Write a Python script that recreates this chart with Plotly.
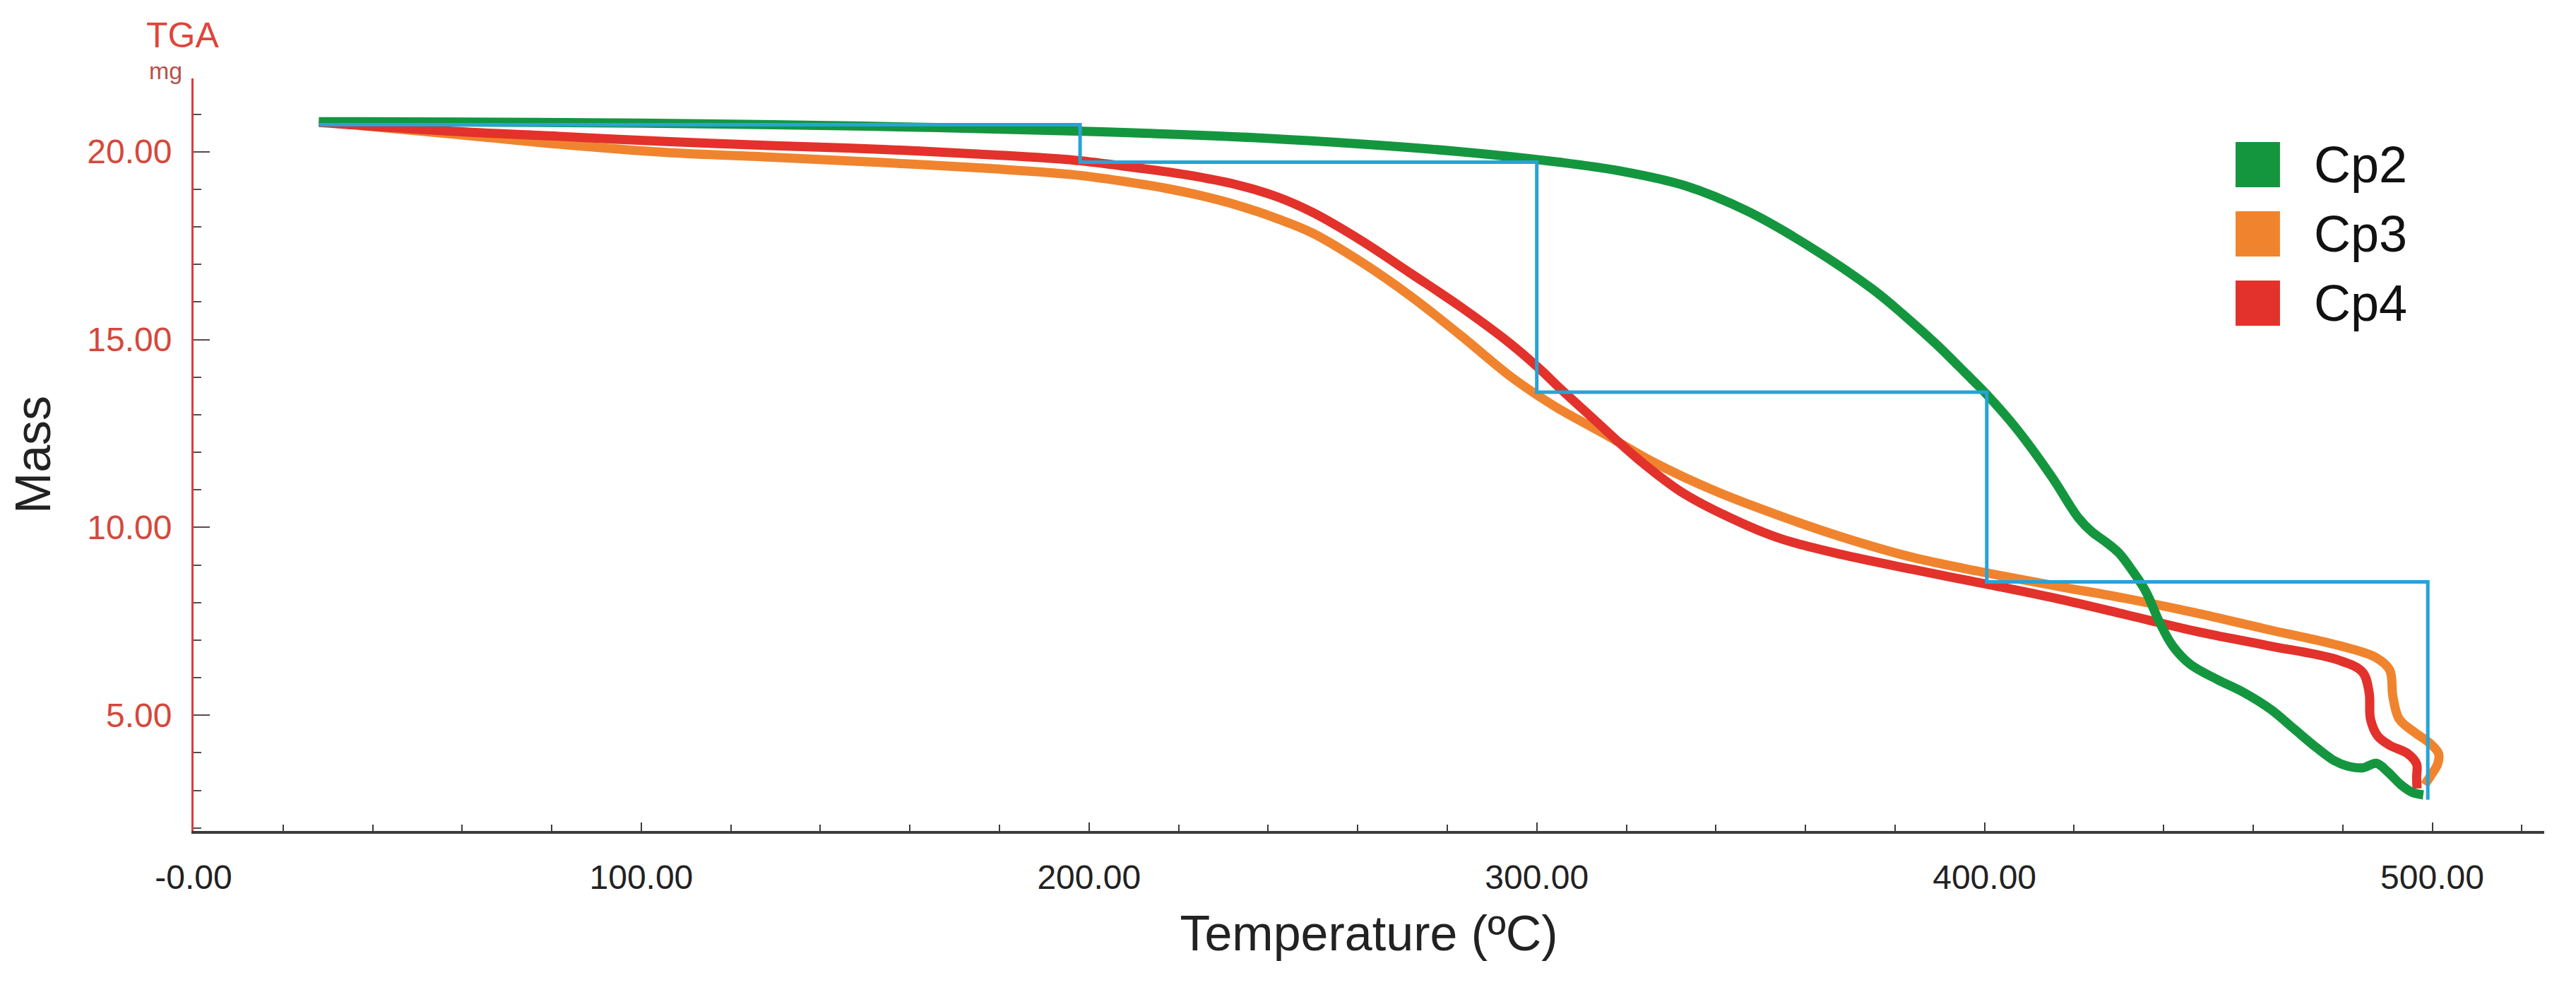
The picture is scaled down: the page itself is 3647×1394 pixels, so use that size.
import plotly.graph_objects as go

# ---------------- data ----------------
series_names = ["Cp2", "Cp3", "Cp4"]

cp2_temp = [28, 60, 100, 150, 197, 210, 239, 283, 305, 319, 333, 347, 361,
            375, 382, 389, 396, 400.4, 407, 415, 421, 424, 427, 430, 433,
            436, 439, 442, 446, 452, 458, 464, 469, 474, 478, 481, 484.5,
            487.5, 490, 493, 495.5, 498]
cp2_mass = [20.80, 20.79, 20.76, 20.68, 20.55, 20.50, 20.36, 20.00, 19.72,
            19.48, 19.10, 18.42, 17.47, 16.34, 15.65, 14.90, 14.08, 13.55,
            12.65, 11.35, 10.25, 9.88, 9.62, 9.32, 8.85, 8.30, 7.50, 6.85,
            6.35, 5.95, 5.60, 5.15, 4.65, 4.15, 3.80, 3.65, 3.60, 3.72, 3.50,
            3.15, 2.95, 2.88]

cp3_temp = [28, 57, 81.5, 105.6, 130, 154, 178, 197, 210, 217, 225, 233, 242,
            250, 261, 272, 283, 294, 301, 305, 315.5, 326, 340, 354, 368, 384,
            400, 416, 431.5, 447, 463, 479, 487.5, 490.5, 491.2, 492.6, 496,
            499.5, 501.4, 501.2, 499.8, 498.3]
cp3_mass = [20.80, 20.48, 20.20, 19.98, 19.85, 19.71, 19.55, 19.38, 19.17,
            19.03, 18.83, 18.58, 18.22, 17.83, 17.05, 16.14, 15.11, 14.03,
            13.45, 13.15, 12.46, 11.74, 10.96, 10.32, 9.75, 9.20, 8.80, 8.44,
            8.11, 7.73, 7.29, 6.86, 6.53, 6.20, 5.50, 4.90, 4.55, 4.25, 3.98,
            3.70, 3.42, 3.15]

cp4_temp = [28, 57, 81.5, 105.6, 130, 154, 178, 197, 210, 222, 233, 242, 250,
            261, 272, 283, 294, 301, 305, 312, 322.6, 333, 347, 355, 368, 384,
            400, 416, 431.5, 447, 463, 479, 484.4, 485.9, 486.2, 487.8, 490.5,
            494.5, 496.5, 496.5, 496.6]
cp4_mass = [20.78, 20.55, 20.41, 20.27, 20.16, 20.06, 19.92, 19.77, 19.58,
            19.38, 19.12, 18.80, 18.38, 17.62, 16.75, 15.87, 14.90, 14.18,
            13.72, 12.96, 11.82, 10.89, 10.05, 9.68, 9.28, 8.88, 8.50, 8.11,
            7.68, 7.24, 6.86, 6.47, 6.15, 5.60, 4.90, 4.45, 4.20, 3.98, 3.70,
            3.35, 3.05]

# step-analysis markers (blue)
step_temp = [28, 198, 198, 300, 300, 400.5, 400.5, 499, 499]
step_mass = [20.72, 20.72, 19.72, 19.72, 13.60, 13.60, 8.55, 8.55, 2.75]

x_tickvals = [0, 100, 200, 300, 400, 500]
x_ticktext = ["-0.00", "100.00", "200.00", "300.00", "400.00", "500.00"]
y_tickvals = [5, 10, 15, 20]
y_ticktext = ["5.00", "10.00", "15.00", "20.00"]

# ---------------- styles ----------------
colors = {"Cp2": "#14963f", "Cp3": "#f0842e", "Cp4": "#e2322b"}
step_color = "#27a3d6"
axis_red = "#dc3b3f"
label_red = "#d4483c"
FONT = "Liberation Sans, Arial, sans-serif"

series = {
    "Cp2": (cp2_temp, cp2_mass),
    "Cp3": (cp3_temp, cp3_mass),
    "Cp4": (cp4_temp, cp4_mass),
}

fig = go.Figure()
for name in ["Cp3", "Cp4", "Cp2"]:
    t, m = series[name]
    fig.add_trace(go.Scatter(
        x=t, y=m, mode="lines", name=name, showlegend=False,
        line=dict(color=colors[name], width=13, shape="spline", smoothing=1.0),
    ))

fig.add_trace(go.Scatter(
    x=step_temp, y=step_mass, mode="lines", name="steps", showlegend=False,
    line=dict(color=step_color, width=5),
))

# ---------------- manual legend (large square swatches) ----------------
leg_x0, leg_w = 0.8687, 0.0189
leg_top, leg_h, leg_gap = 0.9155, 0.0601, 0.0920
for i, name in enumerate(series_names):
    top = leg_top - i * leg_gap
    fig.add_shape(type="rect", xref="paper", yref="paper",
                  x0=leg_x0, x1=leg_x0 + leg_w, y0=top - leg_h, y1=top,
                  fillcolor=colors[name], line=dict(width=0))
    fig.add_annotation(xref="paper", yref="paper", x=0.9015, y=top - leg_h / 2,
                       text=name, showarrow=False, xanchor="left", yanchor="middle",
                       font=dict(family=FONT, size=72, color="#111"))

# axis unit labels
fig.add_annotation(xref="paper", yref="paper", x=-0.0048, y=1.0573, text="TGA",
                   showarrow=False, xanchor="center", yanchor="middle",
                   font=dict(family=FONT, size=50, color="#e0453a"))
fig.add_annotation(xref="paper", yref="paper", x=-0.012, y=1.0100, text="mg",
                   showarrow=False, xanchor="center", yanchor="middle",
                   font=dict(family=FONT, size=34, color="#b9514a"))

fig.update_layout(
    width=3647, height=1394,
    margin=dict(l=266, r=53, t=103, b=226),
    paper_bgcolor="white", plot_bgcolor="white",
    showlegend=False,
    font=dict(family=FONT, size=48, color="#222"),
)

fig.update_xaxes(
    range=[0, 525], showgrid=False, zeroline=False,
    showline=True, linecolor="#3c3c3c", linewidth=4,
    tickmode="array", tickvals=x_tickvals, ticktext=x_ticktext,
    ticks="inside", ticklen=12, tickwidth=2, tickcolor="#3c3c3c",
    tickfont=dict(family=FONT, size=48, color="#222"),
    ticklabelstandoff=20,
    minor=dict(tickmode="linear", tick0=0, dtick=20, ticks="inside",
               ticklen=9, tickwidth=2, tickcolor="#3c3c3c"),
    title=dict(text="Temperature (ºC)", font=dict(family=FONT, size=70, color="#222"),
               standoff=30),
    automargin=False,
)

fig.update_yaxes(
    range=[1.92, 21.95], showgrid=False, zeroline=False,
    showline=True, linecolor=axis_red, linewidth=3,
    tickmode="array", tickvals=y_tickvals, ticktext=y_ticktext,
    ticks="inside", ticklen=23, tickwidth=2, tickcolor="#5a4a4a",
    tickfont=dict(family=FONT, size=48, color=label_red),
    ticklabelstandoff=18,
    minor=dict(tickmode="linear", tick0=0, dtick=1, ticks="inside",
               ticklen=11, tickwidth=2, tickcolor="#5a4a4a"),
    title=dict(text="Mass", font=dict(family=FONT, size=70, color="#222"),
               standoff=40),
    automargin=False,
)

fig.write_html("out.html")
